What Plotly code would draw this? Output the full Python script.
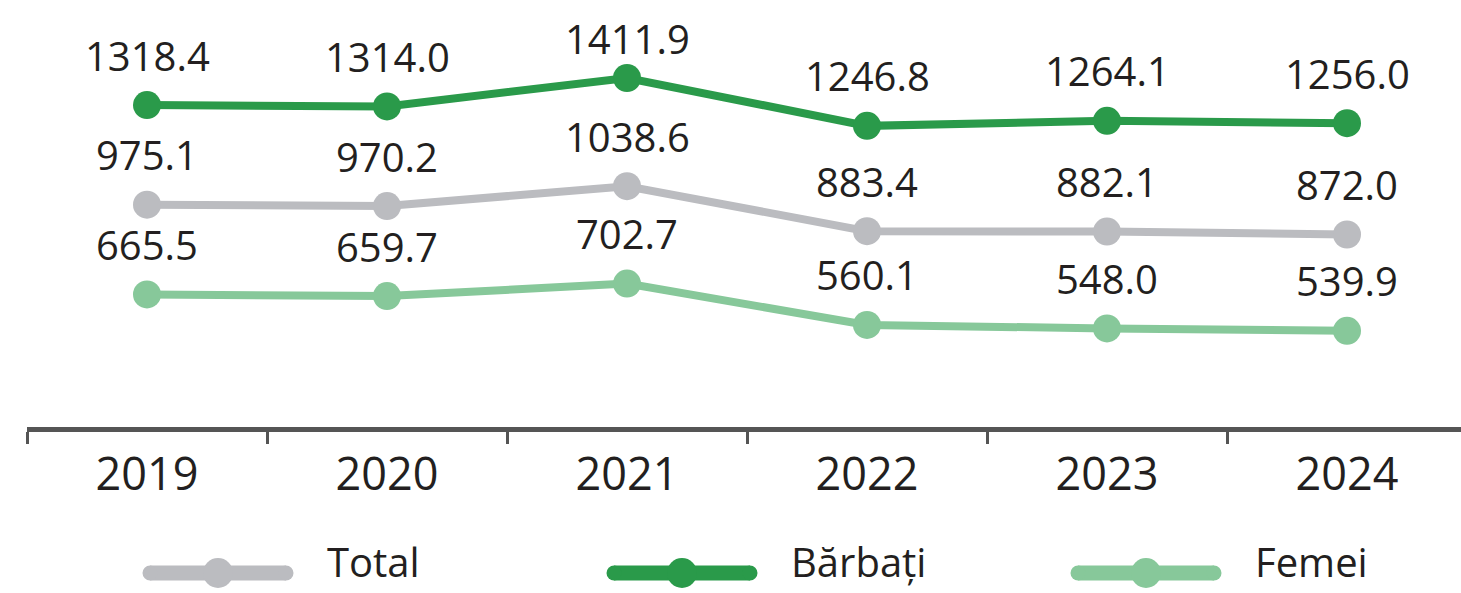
import plotly.graph_objects as go

years = ["2019", "2020", "2021", "2022", "2023", "2024"]
total = [975.1, 970.2, 1038.6, 883.4, 882.1, 872.0]
barbati = [1318.4, 1314.0, 1411.9, 1246.8, 1264.1, 1256.0]
femei = [665.5, 659.7, 702.7, 560.1, 548.0, 539.9]

series = [
    ("Total", total, "#bbbcc0"),
    ("Bărbați", barbati, "#2a9a4a"),
    ("Femei", femei, "#87c89a"),
]

FONT = "Open Sans, Arial, sans-serif"
TEXT = "#231f20"
W, H = 1461, 593
L, B = 27, 166
PW, PH = W - L, H - B
Y_RANGE = [208, 1681]


def px_x(p):
    return (p - L) / PW


def px_y(p):
    return (PH - p) / PH


fig = go.Figure()
annotations = []
shapes = []
for name, vals, color in series:
    fig.add_trace(go.Scatter(
        x=years, y=vals, name=name, mode="lines+markers",
        line=dict(color=color, width=8),
        marker=dict(color=color, size=28),
        cliponaxis=False, showlegend=False,
    ))
    for i, v in enumerate(vals):
        # keep labels off the top edge (the highest one sits a bit lower)
        dist_top = PH * (Y_RANGE[1] - v) / (Y_RANGE[1] - Y_RANGE[0])
        annotations.append(dict(
            x=i, y=v, text=f"{v:.1f}", showarrow=False,
            xref="x", yref="y", yshift=min(50, dist_top - 38),
            font=dict(size=40, color=TEXT, family=FONT),
        ))

# legend drawn by hand so the keys can be as big as in the original
leg_y = 573
for k, (name, vals, color) in enumerate(series):
    x0 = 143 + 464 * k
    shapes.append(dict(
        type="line", xref="paper", yref="paper",
        x0=px_x(x0 + 7), x1=px_x(x0 + 143), y0=px_y(leg_y), y1=px_y(leg_y),
        line=dict(color=color, width=15),
    ))
    shapes.append(dict(
        type="circle", xref="paper", yref="paper",
        x0=px_x(x0 + 60), x1=px_x(x0 + 90),
        y0=px_y(leg_y - 15), y1=px_y(leg_y + 15),
        fillcolor=color, line=dict(width=0),
    ))
    for cx in (x0 + 7, x0 + 143):
        shapes.append(dict(
            type="circle", xref="paper", yref="paper",
            x0=px_x(cx - 7.5), x1=px_x(cx + 7.5),
            y0=px_y(leg_y - 7.5), y1=px_y(leg_y + 7.5),
            fillcolor=color, line=dict(width=0),
        ))
    annotations.append(dict(
        x=px_x(x0 + 182), y=px_y(H - 2), xref="paper", yref="paper",
        text=name, showarrow=False, xanchor="left", yanchor="bottom",
        font=dict(size=40, color=TEXT, family=FONT),
    ))

fig.update_layout(
    width=W, height=H,
    margin=dict(l=L, r=0, t=0, b=B, autoexpand=False),
    paper_bgcolor="white",
    plot_bgcolor="white",
    font=dict(family=FONT, color=TEXT, size=40),
    annotations=annotations,
    shapes=shapes,
    showlegend=False,
    xaxis=dict(
        type="category", range=[-0.5, 5.475],
        showline=True, linecolor="#555555", linewidth=5,
        ticks="outside", tickson="boundaries", ticklen=12, tickwidth=3,
        tickcolor="#555555", showgrid=False, zeroline=False,
        ticklabelstandoff=4,
        tickfont=dict(size=45, color=TEXT, family=FONT),
    ),
    yaxis=dict(
        range=Y_RANGE, visible=False, showgrid=False, zeroline=False,
    ),
)

# the page body has a default margin; drop it so the figure fills the window
fig.write_html("out.html", config={"displayModeBar": False},
               post_script="document.body.style.margin='0';")
